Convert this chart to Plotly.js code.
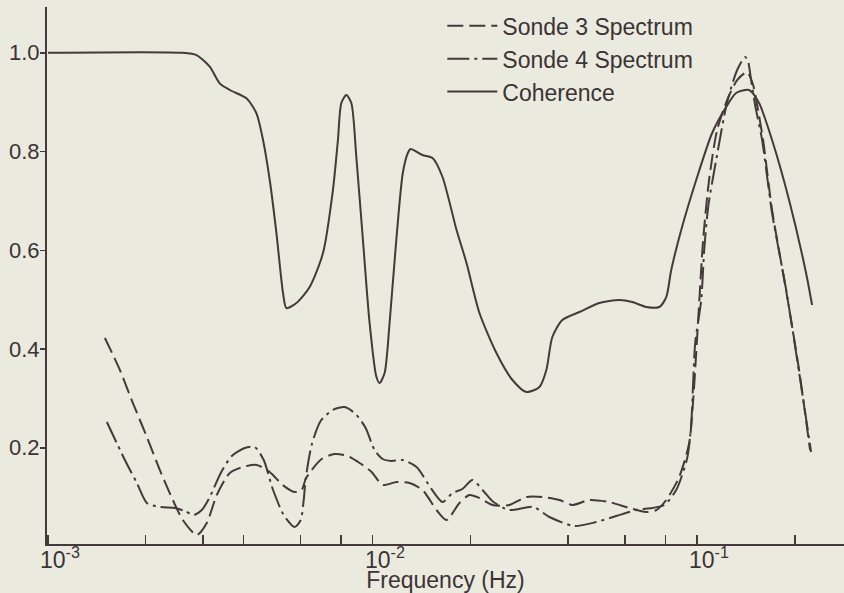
<!DOCTYPE html>
<html>
<head>
<meta charset="utf-8">
<script src="https://cdn.plot.ly/plotly-3.0.1.min.js"></script>
<style>
  html, body { margin: 0; padding: 0; background: #ebeadf; }
  #chart { width: 844px; height: 593px; }
</style>
</head>
<body>
<div id="chart"></div>
<script>
// Frequency (Hz) and value arrays
const coherenceFreq = [0.001, 0.0026, 0.002867, 0.00315, 0.00338, 0.00363, 0.004087, 0.004387, 0.004597, 0.00482, 0.005055, 0.005297, 0.005426, 0.005824, 0.0064, 0.007034, 0.007547, 0.00782, 0.00801, 0.0083, 0.0086, 0.00891, 0.009337, 0.00979, 0.01027, 0.01051, 0.01089, 0.01128, 0.01183, 0.01239, 0.01284, 0.01309, 0.01425, 0.0153, 0.01642, 0.01814, 0.01947, 0.02134, 0.02407, 0.02697, 0.02978, 0.03265, 0.0343, 0.03579, 0.03842, 0.04334, 0.04994, 0.05754, 0.0631, 0.0697, 0.0764, 0.0803, 0.08318, 0.0893, 0.0993, 0.1112, 0.1228, 0.1318, 0.1445, 0.1551, 0.1701, 0.1919, 0.2165, 0.2259];
const coherenceVal = [1.0, 1.0, 0.9954, 0.9718, 0.9381, 0.9246, 0.9077, 0.8774, 0.8233, 0.7423, 0.6349, 0.5134, 0.483, 0.4932, 0.5256, 0.5944, 0.722, 0.8233, 0.8982, 0.9144, 0.8982, 0.7889, 0.6208, 0.4527, 0.3439, 0.3311, 0.3514, 0.4527, 0.6208, 0.7565, 0.797, 0.805, 0.7929, 0.7868, 0.7484, 0.641, 0.5742, 0.4729, 0.3919, 0.3372, 0.3129, 0.323, 0.3575, 0.4243, 0.4587, 0.4749, 0.4932, 0.4992, 0.4952, 0.4851, 0.4851, 0.5053, 0.56, 0.641, 0.7423, 0.8375, 0.8901, 0.9185, 0.9246, 0.8982, 0.8233, 0.7018, 0.5539, 0.4891];

const sonde3Freq = [0.001497, 0.001665, 0.001826, 0.002016, 0.002211, 0.002424, 0.002602, 0.002874, 0.003084, 0.003311, 0.003631, 0.003981, 0.004394, 0.00482, 0.005284, 0.005754, 0.006046, 0.00622, 0.00649, 0.006967, 0.00764, 0.00838, 0.00912, 0.00993, 0.01074, 0.01186, 0.013, 0.01425, 0.01574, 0.01689, 0.01852, 0.01988, 0.02134, 0.0234, 0.02639, 0.02978, 0.03334, 0.03762, 0.04124, 0.04653, 0.0536, 0.06177, 0.0697, 0.0748, 0.0803, 0.088, 0.0945, 0.0972, 0.1007, 0.1043, 0.1088, 0.1152, 0.1237, 0.1328, 0.1425, 0.1487, 0.153, 0.1596, 0.1701, 0.1878, 0.206, 0.2227];
const sonde3Val = [0.4223, 0.3575, 0.2906, 0.2218, 0.1549, 0.0942, 0.0537, 0.0233, 0.0476, 0.1043, 0.1489, 0.161, 0.1651, 0.1509, 0.1246, 0.1104, 0.1144, 0.1367, 0.1549, 0.1772, 0.1873, 0.1833, 0.1691, 0.1509, 0.1246, 0.1306, 0.1286, 0.1144, 0.0739, 0.0537, 0.0881, 0.1043, 0.0982, 0.0841, 0.0841, 0.1003, 0.1003, 0.0942, 0.0841, 0.0942, 0.0901, 0.078, 0.0699, 0.0739, 0.0942, 0.1408, 0.2096, 0.2967, 0.4587, 0.6208, 0.7423, 0.8435, 0.9043, 0.9448, 0.961, 0.9347, 0.8942, 0.8233, 0.6815, 0.5195, 0.3575, 0.1954];

const sonde4Freq = [0.001518, 0.001725, 0.001878, 0.002016, 0.002211, 0.002459, 0.002639, 0.002813, 0.002977, 0.003151, 0.003406, 0.003683, 0.004038, 0.004333, 0.004619, 0.004924, 0.005323, 0.005754, 0.006005, 0.006135, 0.00622, 0.00649, 0.006918, 0.00753, 0.0082, 0.008866, 0.00952, 0.01014, 0.01074, 0.01144, 0.01237, 0.01366, 0.01518, 0.01642, 0.01763, 0.01891, 0.02031, 0.02181, 0.02357, 0.02639, 0.03129, 0.03505, 0.04182, 0.04888, 0.05633, 0.06493, 0.0727, 0.0792, 0.08617, 0.09316, 0.0958, 0.0986, 0.1029, 0.1051, 0.1081, 0.1144, 0.1237, 0.1328, 0.1405, 0.1436, 0.1466, 0.1508, 0.1585, 0.1701, 0.1878, 0.206, 0.2243];
const sonde4Val = [0.2522, 0.1752, 0.1286, 0.0881, 0.08, 0.078, 0.0719, 0.0638, 0.0739, 0.1003, 0.1489, 0.1833, 0.1995, 0.2015, 0.1752, 0.1165, 0.0638, 0.0395, 0.0537, 0.0942, 0.1367, 0.2056, 0.2542, 0.2765, 0.2825, 0.2684, 0.24, 0.1954, 0.1772, 0.1732, 0.1752, 0.161, 0.1165, 0.0901, 0.1084, 0.1165, 0.1347, 0.1144, 0.0901, 0.0739, 0.08, 0.0597, 0.0415, 0.0496, 0.0618, 0.0739, 0.078, 0.0841, 0.1144, 0.1792, 0.2461, 0.4122, 0.4992, 0.6005, 0.6876, 0.7828, 0.9003, 0.9651, 0.9914, 0.9813, 0.9448, 0.8942, 0.8233, 0.6754, 0.5215, 0.3534, 0.1914];

const seriesNames = ["Sonde 3 Spectrum", "Sonde 4 Spectrum", "Coherence"];
const yTickVals = [0.2, 0.4, 0.6, 0.8, 1.0];
const yTickText = ["0.2", "0.4", "0.6", "0.8", "1.0"];
const xMajorVals = [0.001, 0.01, 0.1];
const xMajorText = ["10<sup>-3</sup>", "10<sup>-2</sup>", "10<sup>-1</sup>"];
const xMinorVals = [0.002, 0.003, 0.004, 0.006, 0.008, 0.02, 0.04, 0.06, 0.08, 0.2];
const xTitle = "Frequency (Hz)";

const ink = "#45393b";
const txt = "#3b3335";
const fontFam = "Liberation Sans, Arial, Helvetica, sans-serif";

const traces = [
  { x: sonde3Freq, y: sonde3Val, name: seriesNames[0], mode: "lines",
    line: { color: ink, width: 2, dash: "16px,6px", shape: "spline", smoothing: 0.7 } },
  { x: sonde4Freq, y: sonde4Val, name: seriesNames[1], mode: "lines",
    line: { color: ink, width: 2, dash: "22px,5px,3px,5px", shape: "spline", smoothing: 0.7 } },
  { x: coherenceFreq, y: coherenceVal, name: seriesNames[2], mode: "lines",
    line: { color: ink, width: 2, shape: "spline", smoothing: 0.7 } }
];

// decade tick labels placed under their ticks through the x axis scale
const tickAnnotations = xMajorVals.map((v, i) => ({
  x: Math.log10(v), xref: "x", y: 0, yref: "paper",
  text: xMajorText[i], showarrow: false,
  xanchor: "center", yanchor: "top", xshift: 12, yshift: 3,
  font: { size: 23, family: fontFam, color: txt }
}));

const layout = {
  width: 844, height: 593,
  paper_bgcolor: "#ebeadf", plot_bgcolor: "#ebeadf",
  margin: { l: 47, r: 0, t: 7, b: 49 },
  font: { family: fontFam, size: 22, color: txt },
  showlegend: true,
  legend: { x: 0.496, y: 1.005, xanchor: "left", yanchor: "top", bgcolor: "rgba(0,0,0,0)",
            font: { size: 23, family: fontFam, color: txt }, itemwidth: 50, tracegroupgap: 0 },
  annotations: tickAnnotations,
  xaxis: {
    type: "log", range: [-3.0031, -0.5477],
    showgrid: false, zeroline: false,
    showline: true, linecolor: ink, linewidth: 2,
    ticks: "inside", ticklen: 9, tickwidth: 1.5, tickcolor: ink,
    tickmode: "array", tickvals: xMajorVals, ticktext: xMajorText,
    showticklabels: false,
    minor: { tickmode: "array", tickvals: xMinorVals, ticks: "inside", ticklen: 9, tickwidth: 1.5, tickcolor: ink, showgrid: false },
    title: { text: xTitle, font: { size: 23, family: fontFam, color: txt }, standoff: 28 }
  },
  yaxis: {
    range: [0.00506, 1.0927],
    showgrid: false, zeroline: false,
    showline: true, linecolor: ink, linewidth: 2,
    ticks: "outside", ticklen: 5, tickwidth: 1.5, tickcolor: ink,
    tickmode: "array", tickvals: yTickVals, ticktext: yTickText,
    ticklabelstandoff: -4,
    tickfont: { size: 22, family: fontFam, color: txt }
  }
};

Plotly.newPlot("chart", traces, layout, { displayModeBar: false, staticPlot: true });
</script>
</body>
</html>
